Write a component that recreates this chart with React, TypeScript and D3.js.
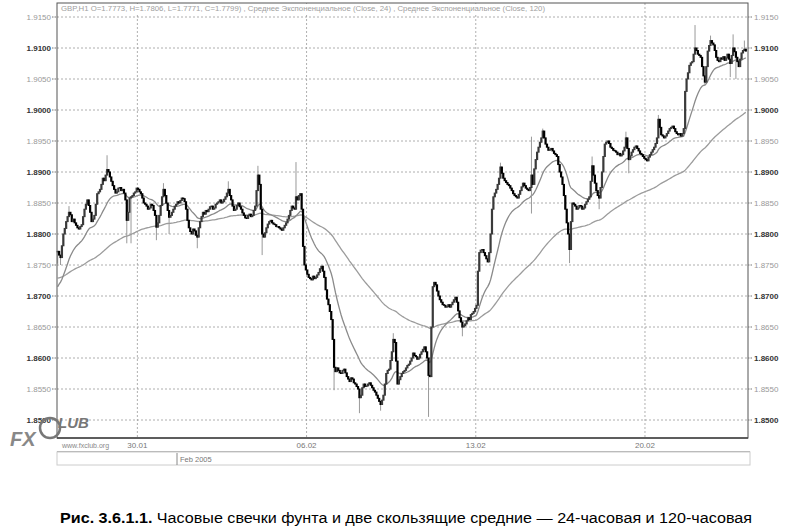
import React from "react";
import * as d3 from "d3";

// Hourly GBP closes, in pips above 1.8500 (bar 0 ≈ 27 Jan 2005)
const closePips: number[] = [
  272, 266, 262, 281, 300, 309, 320, 328, 335, 331,
  320, 324, 318, 314, 310, 308, 312, 315, 328, 340,
  348, 355, 346, 335, 320, 324, 330, 348, 365, 368,
  372, 380, 390, 386, 395, 404, 400, 392, 385, 378,
  372, 366, 368, 374, 375, 370, 372, 366, 355, 322,
  335, 358, 360, 362, 366, 368, 374, 372, 368, 365,
  358, 350, 348, 345, 340, 342, 348, 346, 338, 330,
  311, 318, 330, 346, 360, 372, 362, 350, 338, 327,
  330, 335, 340, 345, 348, 352, 350, 354, 358, 357,
  352, 340, 322, 310, 304, 300, 308, 305, 298, 295,
  310, 320, 328, 335, 332, 338, 336, 340, 344, 345,
  340, 342, 348, 350, 352, 355, 350, 352, 356, 360,
  366, 372, 362, 355, 345, 338, 340, 346, 350, 344,
  340, 334, 330, 326, 325, 330, 332, 328, 330, 338,
  345, 370, 395, 380, 340, 300, 295, 302, 310, 316,
  320, 322, 318, 316, 315, 312, 312, 310, 308, 306,
  310, 314, 318, 324, 330, 338, 345, 342, 340, 360,
  355, 362, 365, 340, 280, 250, 242, 235, 230, 228,
  226, 232, 228, 230, 234, 238, 244, 248, 240, 230,
  210, 195, 186, 175, 162, 130, 85, 78, 84, 80,
  76, 75, 80, 82, 76, 70, 66, 62, 68, 66,
  60, 58, 54, 50, 36, 40, 52, 58, 54, 55,
  58, 60, 56, 52, 48, 45, 40, 35, 30, 25,
  32, 40, 58, 75, 80, 82, 96, 110, 130, 125,
  95, 58, 65, 70, 75, 78, 80, 84, 88, 90,
  95, 100, 108, 104, 102, 98, 100, 106, 110, 114,
  118, 110, 100, 72, 70, 150, 215, 222, 218, 208,
  200, 194, 190, 186, 185, 182, 183, 186, 182, 186,
  190, 194, 198, 190, 176, 165, 158, 150, 152, 155,
  160, 165, 162, 170, 172, 175, 180, 185, 240, 270,
  274, 275, 270, 265, 260, 255, 270, 300, 340, 360,
  366, 372, 380, 390, 408, 398, 390, 386, 383, 380,
  378, 374, 370, 365, 362, 360, 358, 364, 370, 376,
  382, 378, 374, 372, 370, 375, 395, 380, 405, 420,
  432, 440, 448, 455, 466, 455, 445, 440, 435, 436,
  438, 434, 430, 428, 425, 412, 400, 392, 380, 362,
  340, 318, 300, 275, 320, 350, 348, 345, 340, 342,
  346, 345, 340, 342, 348, 352, 356, 360, 385, 410,
  395, 382, 370, 362, 358, 375, 400, 425, 445, 448,
  450, 446, 440, 438, 435, 434, 432, 428, 430, 426,
  428, 434, 440, 455, 438, 420, 426, 432, 436, 440,
  442, 438, 434, 430, 428, 425, 422, 420, 418, 424,
  428, 432, 436, 440, 446, 455, 485, 472, 460, 458,
  455, 458, 462, 466, 470, 472, 474, 470, 465, 462,
  460, 462, 458, 462, 470, 530, 550, 560, 572, 576,
  578, 590, 600, 596, 590, 588, 585, 570, 555, 545,
  570, 595, 604, 612, 608, 605, 596, 585, 580, 578,
  584, 582, 586, 580, 584, 590, 582, 575, 588, 600,
  594, 585, 578, 570, 582, 592, 596, 598, 595,
];

// Notable wicks: [bar index, pips]
const highSpikes: [number, number][] = [
  [8, 345], [35, 427], [75, 382], [121, 385], [142, 410], [169, 416], [238, 140],
  [314, 415], [336, 457], [344, 470], [379, 425], [403, 465], [426, 492], [452, 637],
  [463, 620], [479, 622], [487, 612],
];
const lowSpikes: [number, number][] = [
  [0, 252], [2, 250], [49, 285], [52, 285], [70, 290], [79, 300], [99, 277], [145, 266],
  [196, 48], [214, 11], [229, 15], [263, 5], [287, 135], [336, 333], [363, 253],
  [384, 340], [405, 398], [459, 540], [477, 553], [481, 550],
];

// EMA values before the first visible bar
const ema24Start = 210;
const ema120Start = 228;

const dateBars = [57, 177, 297, 417];
const dateLabels = ["30.01", "06.02", "13.02", "20.02"];
const priceTicks = [1.85, 1.855, 1.86, 1.865, 1.87, 1.875, 1.88, 1.885, 1.89, 1.895, 1.9, 1.905, 1.91, 1.915];

const BASE = 1.85;
const L = 57, R = 748, T = 3, B = 438;

function ema(vals: number[], period: number, start: number) {
  const a = 2 / (period + 1);
  let e = start;
  return vals.map((v) => (e = e + a * (v - e)));
}

export default function App() {
  const x = d3.scaleLinear().domain([0, 490]).range([L, L + 490 * 1.41]);
  const y = d3.scaleLinear().domain([1.85, 1.915]).range([420, 17]);
  const p = (q: number) => BASE + q / 10000;
  const hiMap = new Map(highSpikes);
  const loMap = new Map(lowSpikes);

  const bars = closePips.map((c, i) => {
    const o = i === 0 ? c : closePips[i - 1];
    const hi = Math.max(o, c, hiMap.get(i) ?? -1e9);
    const lo = Math.min(o, c, loMap.get(i) ?? 1e9);
    return { i, o, c, hi, lo };
  });

  const e24 = ema(closePips, 24, ema24Start);
  const e120 = ema(closePips, 120, ema120Start);
  const line = d3
    .line<number>()
    .x((_, i) => x(i + 0.5))
    .y((d) => y(p(d)));

  const font = "'Liberation Sans', Arial, sans-serif";

  return (
    <svg
      width={794}
      height={531}
      style={{ position: "absolute", left: 0, top: 0, background: "#fff" }}
      fontFamily={font}
    >
      <rect x={0} y={0} width={794} height={531} fill="#fff" />
      {/* grid */}
      {priceTicks.map((t) => (
        <line key={"h" + t} x1={L} x2={R} y1={y(t)} y2={y(t)} stroke="#9a9a9a" strokeWidth={0.8} strokeDasharray="2,2" />
      ))}
      {dateBars.map((b) => (
        <line key={"v" + b} x1={x(b)} x2={x(b)} y1={T} y2={B} stroke="#9a9a9a" strokeWidth={0.8} strokeDasharray="2,2" />
      ))}
      {/* EMAs */}
      <path d={line(e120) || ""} fill="none" stroke="#9c9c9c" strokeWidth={1.3} />
      <path d={line(e24) || ""} fill="none" stroke="#8a8a8a" strokeWidth={1.3} />
      {/* candles */}
      {bars.map((b) => {
        const cx = x(b.i + 0.5);
        const top = y(p(Math.max(b.o, b.c)));
        const bot = y(p(Math.min(b.o, b.c)));
        return (
          <g key={b.i}>
            <line x1={cx} x2={cx} y1={y(p(b.hi))} y2={y(p(b.lo))} stroke="#999" strokeWidth={1} />
            <rect
              x={cx - 1.1}
              y={top - 0.5}
              width={2.2}
              height={Math.max(1.5, bot - top + 1)}
              fill={b.c >= b.o ? "#3a3a3a" : "#000"}
            />
          </g>
        );
      })}
      {/* header */}
      <rect x={L + 1} y={T + 1} width={488} height={10} fill="#fff" />
      <text x={61} y={11} fontSize={7.5} fill="#a0a0a0" textLength={484} lengthAdjust="spacingAndGlyphs">
        GBP,H1 O=1.7773, H=1.7806, L=1.7771, C=1.7799) , Среднее Экспоненциальное (Close, 24) , Среднее Экспоненциальное (Close, 120)
      </text>
      {/* frame */}
      <rect x={L} y={T} width={R - L} height={B - T} fill="none" stroke="#555" strokeWidth={1} />
      <line x1={L} x2={R} y1={B} y2={B} stroke="#444" strokeWidth={1.5} />
      {/* axes labels */}
      {priceTicks.map((t) => {
        const major = Math.round(t * 1000) % 10 === 0;
        return (
          <g key={"l" + t}>
            <line x1={L - 5} x2={L} y1={y(t)} y2={y(t)} stroke="#777" strokeDasharray="1.5,1" />
            <line x1={R} x2={R + 5} y1={y(t)} y2={y(t)} stroke="#777" strokeDasharray="1.5,1" />
            <text x={L - 6} y={y(t) + 3} fontSize={8} textAnchor="end" fontWeight={major ? 700 : 400} fill={major ? "#333" : "#999"}>
              {t.toFixed(4)}
            </text>
            <text x={R + 6} y={y(t) + 3} fontSize={8} fontWeight={major ? 700 : 400} fill={major ? "#333" : "#999"}>
              {t.toFixed(4)}
            </text>
          </g>
        );
      })}
      {/* date row */}
      {dateBars.map((b, k) => (
        <text key={"d" + b} x={x(b)} y={448} fontSize={8} textAnchor="middle" fill="#777">
          {dateLabels[k]}
        </text>
      ))}
      <text x={62} y={448} fontSize={7} fill="#888">www.fxclub.org</text>
      <line x1={L} x2={R + 2} y1={451.5} y2={451.5} stroke="#aaa" />
      <rect x={L} y={452} width={R + 2 - L} height={13} fill="none" stroke="#ccc" />
      <line x1={177} x2={177} y1={453} y2={465} stroke="#888" />
      <text x={180} y={462} fontSize={7.5} fill="#777">Feb 2005</text>
      {/* logo */}
      <g fill="#777" fontStyle="italic" fontWeight={700}>
        <text x={10} y={446} fontSize={20} fill="#888">FX</text>
        <circle cx={50} cy={428} r={10} fill="none" stroke="#777" strokeWidth={2.5} />
        <text x={58} y={428} fontSize={15}>LUB</text>
      </g>
      {/* caption */}
      <text x={60} y={523} fontSize={14} fill="#000" textLength={692} lengthAdjust="spacingAndGlyphs">
        <tspan fontWeight={700}>Рис. 3.6.1.1.</tspan>
        <tspan> Часовые свечки фунта и две скользящие средние — 24-часовая и 120-часовая</tspan>
      </text>
    </svg>
  );
}
